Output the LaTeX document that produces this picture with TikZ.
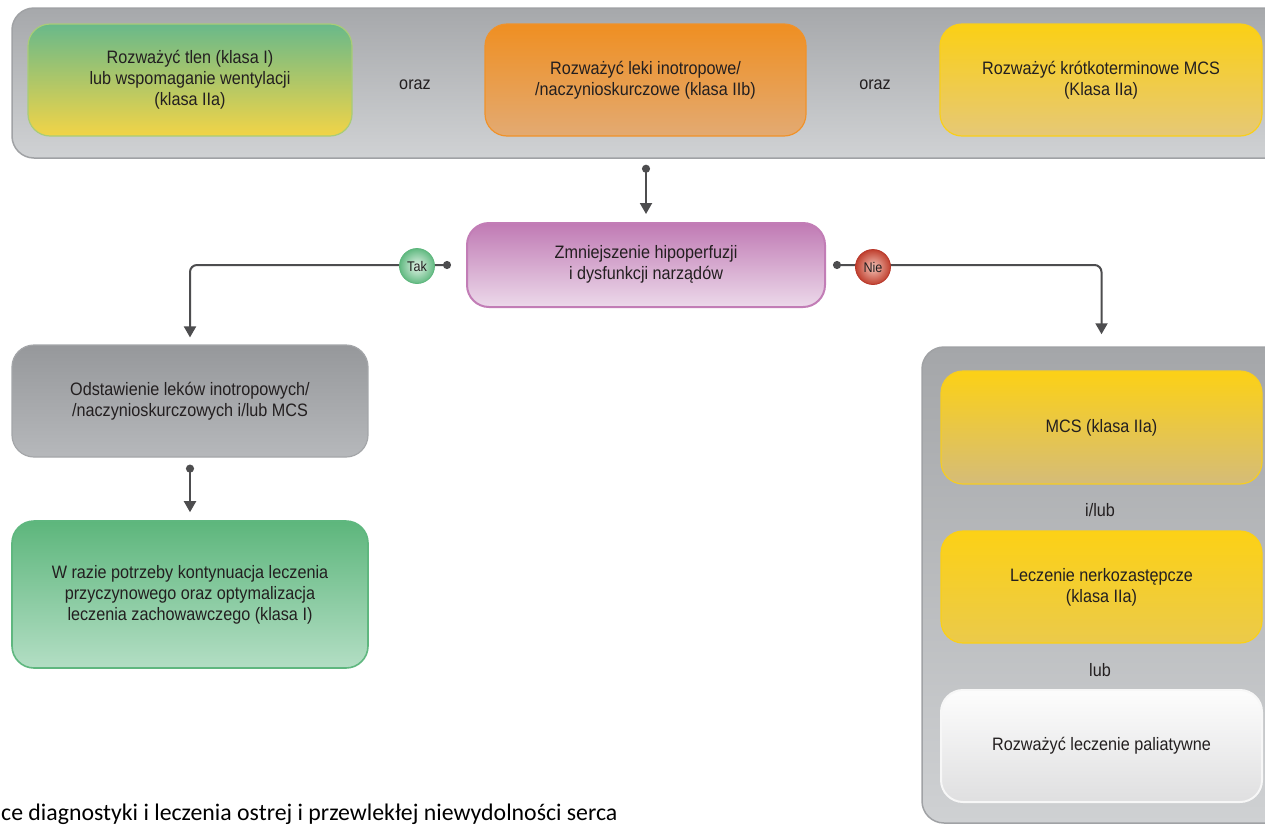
\documentclass[tikz,border=0pt]{standalone}
\usepackage{fontspec}
\setmainfont{Liberation Sans}[FakeStretch=0.9]
\newfontfamily\captionfont{Carlito}
\usetikzlibrary{arrows.meta}

\definecolor{txt}{HTML}{231F20}
\definecolor{wire}{HTML}{4D4D4F}
\definecolor{panelEdge}{HTML}{A0A2A5}
\definecolor{panelTop}{HTML}{A6A8AB}
\definecolor{panelBot}{HTML}{D0D2D4}
\definecolor{oxyEdge}{HTML}{A9CC78}
\definecolor{oxyTop}{HTML}{69B98A}
\definecolor{oxyBot}{HTML}{F2D447}
\definecolor{inoEdge}{HTML}{F0922A}
\definecolor{inoTop}{HTML}{EF8F22}
\definecolor{inoBot}{HTML}{E3AA72}
\definecolor{ylwEdge}{HTML}{F9CF1A}
\definecolor{ylwTop}{HTML}{FBD015}
\definecolor{ylwBot}{HTML}{E6C876}
\definecolor{hypEdge}{HTML}{C27DB6}
\definecolor{hypTop}{HTML}{C07AB4}
\definecolor{hypBot}{HTML}{ECD9EA}
\definecolor{weanEdge}{HTML}{A4A6A9}
\definecolor{weanTop}{HTML}{96989B}
\definecolor{weanBot}{HTML}{B6B8BB}
\definecolor{contEdge}{HTML}{5FB77F}
\definecolor{contTop}{HTML}{5DB67C}
\definecolor{contBot}{HTML}{B3DEC4}
\definecolor{rpTop}{HTML}{A4A6A9}
\definecolor{rpBot}{HTML}{CFD1D3}
\definecolor{mcsEdge}{HTML}{F6CD22}
\definecolor{mcsTop}{HTML}{FCD116}
\definecolor{mcsBot}{HTML}{D5BC78}
\definecolor{renEdge}{HTML}{FBD016}
\definecolor{renBot}{HTML}{EBCA4A}
\definecolor{palEdge}{HTML}{F7F7F7}
\definecolor{palTop}{HTML}{FDFDFD}
\definecolor{palBot}{HTML}{DFDFE0}
\definecolor{yesEdge}{HTML}{5DB67C}
\definecolor{yesIn}{HTML}{E4F3E8}
\definecolor{yesOut}{HTML}{62BA82}
\definecolor{noEdge}{HTML}{B8372A}
\definecolor{noIn}{HTML}{F3C4B8}
\definecolor{noOut}{HTML}{C0402F}

\tikzset{
  box/.style={rounded corners=22pt, inner sep=0pt, align=center,
    text=txt, font=\fontsize{18}{21}\selectfont, line width=1.2pt},
  panel/.style={rounded corners=22pt, inner sep=0pt, line width=1.5pt,
    draw=panelEdge},
  conn/.style={draw=wire, line width=2pt, rounded corners=7pt,
    {Circle[length=8pt,width=8pt]}-{Triangle[length=11pt,width=12pt]}},
  word/.style={text=txt, font=\fontsize{18}{21}\selectfont},
  badge/.style={circle, minimum size=35pt, inner sep=0pt, text=txt,
    font=\fontsize{14}{16}\selectfont, draw=#1, line width=0.8pt}
}

\begin{document}
\begin{tikzpicture}[x=1pt,y=-1pt]
\fill[white] (0,0) rectangle (1265,825);
\clip (0,0) rectangle (1265,825);

% upper panel with three options
\node[panel, top color=panelTop, bottom color=panelBot,
  minimum width=1290pt, minimum height=150pt] (toppanel) at (657,83) {};
\node[box, draw=oxyEdge, top color=oxyTop, bottom color=oxyBot,
  minimum width=324pt, minimum height=112pt] (oxygen) at (190,80)
  {Rozważyć tlen (klasa I)\\lub wspomaganie wentylacji\\(klasa IIa)};
\node[word] (and1) at (415,85) {oraz};
\node[box, draw=inoEdge, top color=inoTop, bottom color=inoBot,
  minimum width=321pt, minimum height=112pt] (inotrop) at (645.5,80)
  {Rozważyć leki inotropowe/\\/naczynioskurczowe (klasa IIb)};
\node[word] (and2) at (875,85) {oraz};
\node[box, draw=ylwEdge, top color=ylwTop, bottom color=ylwBot,
  minimum width=322pt, minimum height=112pt] (mcsshort) at (1101,80)
  {Rozważyć krótkoterminowe MCS\\(Klasa IIa)};

% decision
\node[box, draw=hypEdge, line width=2pt, top color=hypTop, bottom color=hypBot,
  minimum width=358pt, minimum height=84pt] (hypo) at (646,265)
  {\raisebox{4pt}{\begin{tabular}{@{}c@{}}Zmniejszenie hipoperfuzji\\i dysfunkcji narządów\end{tabular}}};

% left branch
\node[box, draw=weanEdge, top color=weanTop, bottom color=weanBot,
  minimum width=356pt, minimum height=112pt] (wean) at (190,401)
  {Odstawienie leków inotropowych/\\/naczynioskurczowych i/lub MCS};
\node[box, draw=contEdge, line width=1.6pt, top color=contTop, bottom color=contBot,
  minimum width=356pt, minimum height=147pt] (cont) at (190,594.5)
  {W razie potrzeby kontynuacja leczenia\\przyczynowego oraz optymalizacja\\leczenia zachowawczego (klasa I)};

% right branch panel
\node[panel, top color=rpTop, bottom color=rpBot,
  minimum width=370pt, minimum height=476pt] (rightpanel) at (1107,585) {};
\node[box, draw=mcsEdge, top color=mcsTop, bottom color=mcsBot,
  minimum width=321pt, minimum height=113pt] (mcs) at (1101.5,427.5)
  {MCS (klasa IIa)};
\node[word] (andor) at (1100,510) {i/lub};
\node[box, draw=renEdge, top color=mcsTop, bottom color=renBot,
  minimum width=321pt, minimum height=112pt] (renal) at (1101.5,587)
  {Leczenie nerkozastępcze\\(klasa IIa)};
\node[word] (or) at (1100,670) {lub};
\node[box, draw=palEdge, line width=2pt, top color=palTop, bottom color=palBot,
  minimum width=321pt, minimum height=112pt] (palliative) at (1101.5,746)
  {Rozważyć leczenie paliatywne};

% connectors
\draw[conn] ([yshift=-6pt]toppanel.south -| hypo.north) -- ([yshift=8pt]hypo.north);
\draw[conn] ([xshift=-15pt]hypo.west) -| ([yshift=7pt]wean.north);
\draw[conn] ([xshift=7pt]hypo.east) -| ([yshift=12pt]rightpanel.north -| mcs.north);
\draw[conn] ([yshift=-7pt]wean.south) -- ([yshift=8pt]cont.north);

% branch labels
\node[badge=yesEdge, inner color=yesIn, outer color=yesOut] (yes) at (417,266) {Tak};
\node[badge=noEdge, inner color=noIn, outer color=noOut] (no) at (873,267) {Nie};

% running footer
\node[anchor=base west, inner sep=0pt, text=black, font=\captionfont\fontsize{23.8}{28}\selectfont]
  (footer) at (1,820) {ce diagnostyki i leczenia ostrej i przewlekłej niewydolności serca};
\end{tikzpicture}
\end{document}
